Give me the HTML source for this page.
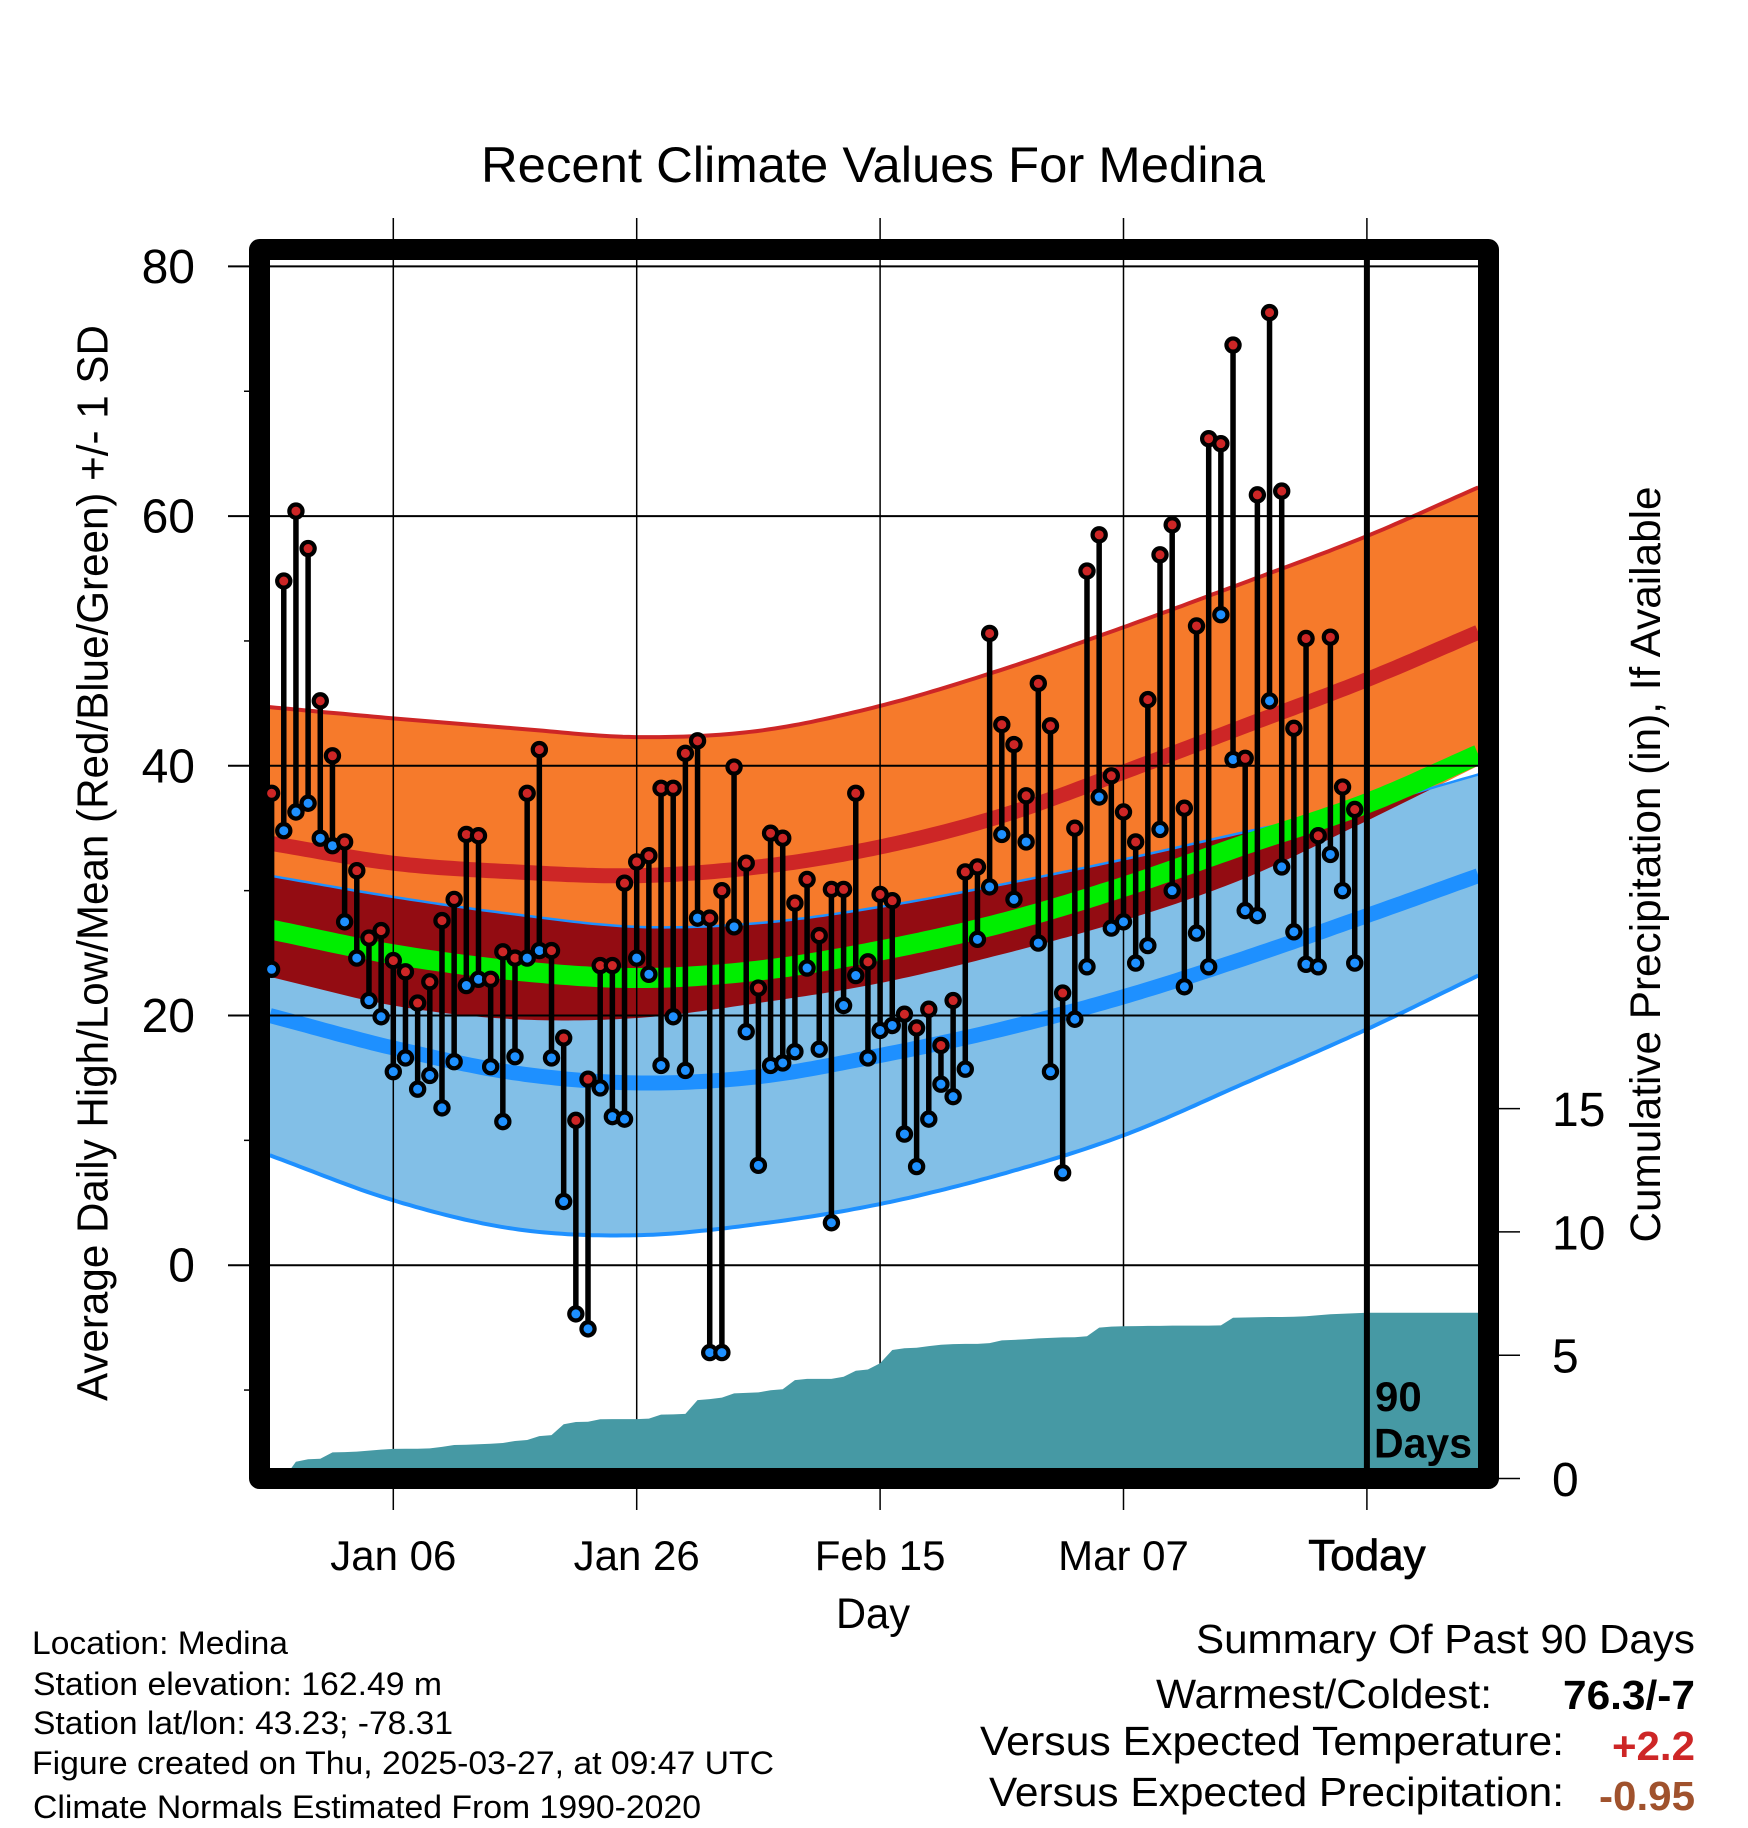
<!DOCTYPE html>
<html>
<head>
<meta charset="utf-8">
<title>Recent Climate Values For Medina</title>
<style>
html,body{margin:0;padding:0;background:#fff;}
svg{display:block;}
text{font-family:"Liberation Sans",Arial,sans-serif;fill:#000;}
</style>
</head>
<body>
<svg id="chart" xmlns="http://www.w3.org/2000/svg" width="1748" height="1828" viewBox="0 0 1748 1828">
<rect x="0" y="0" width="1748" height="1828" fill="#fff"/>
<g id="bands"></g>
<g id="grid"></g>
<g id="precip"></g>
<g id="ticks"></g>
<rect x="259.5" y="249.5" width="1229" height="1229" fill="none" stroke="#000" stroke-width="21" stroke-linejoin="round"/>
<g id="marks"></g>
<text x="481" y="182" font-size="50" textLength="784" lengthAdjust="spacingAndGlyphs">Recent Climate Values For Medina</text>
<text transform="translate(107.5,1401) rotate(-90)" font-size="44" textLength="1076" lengthAdjust="spacingAndGlyphs">Average Daily High/Low/Mean (Red/Blue/Green) +/- 1 SD</text>
<text transform="translate(1660,1242.5) rotate(-90)" font-size="43" textLength="756" lengthAdjust="spacingAndGlyphs">Cumulative Precipitation (in), If Available</text>
<text x="836" y="1628" font-size="43" textLength="74" lengthAdjust="spacingAndGlyphs">Day</text>
<text x="1375" y="1411" font-size="42" font-weight="bold">90</text>
<text x="1374" y="1457.5" font-size="42" font-weight="bold" textLength="98" lengthAdjust="spacingAndGlyphs">Days</text>
<g>
<text x="32" y="1654" font-size="32" textLength="256" lengthAdjust="spacingAndGlyphs">Location: Medina</text>
<text x="33" y="1695" font-size="32" textLength="409" lengthAdjust="spacingAndGlyphs">Station elevation: 162.49 m</text>
<text x="33" y="1734" font-size="32" textLength="420" lengthAdjust="spacingAndGlyphs">Station lat/lon: 43.23; -78.31</text>
<text x="32" y="1774" font-size="32" textLength="742" lengthAdjust="spacingAndGlyphs">Figure created on Thu, 2025-03-27, at 09:47 UTC</text>
<text x="33" y="1818" font-size="32" textLength="668" lengthAdjust="spacingAndGlyphs">Climate Normals Estimated From 1990-2020</text>
</g>
<g>
<text x="1196" y="1653" font-size="41" textLength="499" lengthAdjust="spacingAndGlyphs">Summary Of Past 90 Days</text>
<text x="1156" y="1708" font-size="41" textLength="336" lengthAdjust="spacingAndGlyphs">Warmest/Coldest:</text>
<text x="1563" y="1709" font-size="41" font-weight="bold" textLength="132" lengthAdjust="spacingAndGlyphs">76.3/-7</text>
<text x="980" y="1755" font-size="41" textLength="584" lengthAdjust="spacingAndGlyphs">Versus Expected Temperature:</text>
<text x="1612" y="1760" font-size="41" font-weight="bold" textLength="83" lengthAdjust="spacingAndGlyphs" style="fill:#cd2626">+2.2</text>
<text x="989" y="1806" font-size="41" textLength="575" lengthAdjust="spacingAndGlyphs">Versus Expected Precipitation:</text>
<text x="1599" y="1810" font-size="41" font-weight="bold" textLength="96" lengthAdjust="spacingAndGlyphs" style="fill:#a0522d">-0.95</text>
</g>
</svg>
<script>
// Observed daily values, one entry per day, oldest first (deg F)
const dailyHigh = [37.8,54.8,60.4,57.4,45.2,40.8,33.9,31.6,26.2,26.8,24.4,23.5,21.0,22.7,27.6,29.3,34.5,34.4,22.9,25.1,24.6,37.8,41.3,25.2,18.2,11.6,14.9,24.0,24.0,30.6,32.3,32.8,38.2,38.2,41.0,42.0,27.8,30.0,39.9,32.2,22.2,34.6,34.2,29.0,30.9,26.4,30.1,30.1,37.8,24.3,29.7,29.2,20.1,19.0,20.5,17.6,21.2,31.5,31.9,50.6,43.3,41.7,37.6,46.6,43.2,21.8,35.0,55.6,58.5,39.2,36.3,33.9,45.3,56.9,59.3,36.6,51.2,66.2,65.8,73.7,40.6,61.7,76.3,62.0,43.0,50.2,34.4,50.3,38.3,36.5];
const dailyLow = [23.7,34.8,36.3,37.0,34.2,33.6,27.5,24.6,21.2,19.9,15.5,16.6,14.1,15.2,12.6,16.3,22.4,22.9,15.9,11.5,16.7,24.6,25.2,16.6,5.1,-3.9,-5.1,14.2,11.9,11.7,24.6,23.3,16.0,19.9,15.6,27.8,-7.0,-7.0,27.1,18.7,8.0,16.0,16.2,17.1,23.8,17.3,3.4,20.8,23.2,16.6,18.8,19.2,10.5,7.9,11.7,14.5,13.5,15.7,26.1,30.3,34.5,29.3,33.9,25.8,15.5,7.4,19.7,23.9,37.5,27.0,27.5,24.2,25.6,34.9,30.0,22.3,26.6,23.9,52.1,40.5,28.4,28.0,45.2,31.9,26.7,24.1,23.9,32.9,30.0,24.2];
// Cumulative precipitation (inches), one entry per day
const cumulativePrecip = [0,0,0.68,0.78,0.80,1.06,1.07,1.09,1.13,1.17,1.20,1.21,1.21,1.22,1.28,1.36,1.37,1.39,1.41,1.44,1.52,1.56,1.72,1.76,2.20,2.29,2.30,2.40,2.41,2.41,2.41,2.43,2.59,2.60,2.62,3.18,3.22,3.28,3.45,3.47,3.49,3.58,3.62,3.99,4.04,4.04,4.04,4.13,4.37,4.42,4.67,5.21,5.28,5.30,5.37,5.42,5.45,5.46,5.46,5.49,5.60,5.62,5.65,5.68,5.70,5.72,5.73,5.77,6.12,6.16,6.17,6.18,6.19,6.19,6.20,6.20,6.20,6.20,6.21,6.52,6.53,6.54,6.55,6.55,6.56,6.58,6.62,6.66,6.68,6.70,6.72,6.72,6.72,6.72,6.72,6.72,6.72,6.72,6.72,6.72];
// Climate-normal curves (deg F) read at the sample days
const normalDays = [-0.15,10,20,30,40,50,60,70,80,90,99.15];
const highPlusSD = [44.7,43.8,43.0,42.3,42.8,44.8,47.7,51.1,54.7,58.4,62.3];
const highMean = [33.8,32.2,31.5,31.2,31.9,33.5,36.0,39.5,43.2,46.9,50.7];
const highMinusSD = [23.1,20.8,19.7,19.8,21.0,22.6,24.9,27.6,31.0,35.6,40.0];
const overallMean = [26.9,24.9,23.6,23.0,23.6,25.2,27.4,30.3,33.7,37.0,40.9];
const lowPlusSD = [31.2,29.5,28.1,27.1,27.4,28.7,30.5,32.5,34.7,36.8,39.3];
const lowMean = [20.0,17.4,15.4,14.6,15.1,16.8,18.9,21.5,24.6,28.0,31.2];
const lowMinusSD = [8.8,5.2,2.9,2.4,3.3,4.9,7.3,10.4,14.6,18.9,23.2];
// Axis labels
const tempMajorTicks = [80,60,40,20,0];
const tempMinorTicks = [70,50,30,10,-10];
const precipTicks = [0,5,10,15];
const dateTickDays = [10,30,50,70,90];
const dateTickLabels = ['Jan 06','Jan 26','Feb 15','Mar 07','Today'];

const NS = 'http://www.w3.org/2000/svg';
const xScale = d => 271.6 + 12.17 * d;
const yTemp = v => 1265.2 - 12.485 * v;
const yPrecip = v => 1478.5 - 24.66 * v;

function make(tag, parent, attrs) {
  const el = document.createElementNS(NS, tag);
  for (const k in attrs) el.setAttribute(k, attrs[k]);
  parent.appendChild(el);
  return el;
}

// Smooth reading of a curve between its sample days
function curveAt(vals, d) {
  const n = normalDays.length;
  let i = 0;
  while (i < n - 2 && d > normalDays[i + 1]) i++;
  const x0 = normalDays[i], x1 = normalDays[i + 1], h = x1 - x0;
  const slope = j => {
    const a = Math.max(0, j - 1), b = Math.min(n - 1, j + 1);
    return (vals[b] - vals[a]) / (normalDays[b] - normalDays[a]);
  };
  const t = (d - x0) / h, t2 = t * t, t3 = t2 * t;
  return (2*t3 - 3*t2 + 1) * vals[i] + (t3 - 2*t2 + t) * h * slope(i) +
         (-2*t3 + 3*t2) * vals[i + 1] + (t3 - t2) * h * slope(i + 1);
}
const first = normalDays[0], last = normalDays[normalDays.length - 1];
const sampleDays = [];
for (let d = first; d < last; d += 0.5) sampleDays.push(d);
sampleDays.push(last);
const linePts = fn => sampleDays.map(d => xScale(d).toFixed(1) + ',' + yTemp(fn(d)).toFixed(1));
const curvePts = vals => linePts(d => curveAt(vals, d));
const bandPts = (topFn, botFn) => linePts(topFn).concat(linePts(botFn).reverse()).join(' ');

const bands = document.getElementById('bands');
const orangeBand = make('polygon', bands, {fill: '#f67a2b', points: bandPts(d => curveAt(highPlusSD, d), d => curveAt(highMinusSD, d))});


const blueBand = make('polygon', bands, {fill: '#82bfe7', points: bandPts(d => curveAt(lowPlusSD, d), d => curveAt(lowMinusSD, d))});


const overlapBand = make('polygon', bands, {fill: '#930c12', points: bandPts(d => curveAt(lowPlusSD, d), d => Math.min(curveAt(lowPlusSD, d), curveAt(highMinusSD, d)))});


const lineStyle = (color, w) => ({fill: 'none', stroke: color, 'stroke-width': w});
const hsdLine = make('polyline', bands, Object.assign(lineStyle('#cd2626', 4), {points: curvePts(highPlusSD).join(' ')}));


const lsdLine = make('polyline', bands, Object.assign(lineStyle('#1e90ff', 2.5), {points: curvePts(lowPlusSD).join(' ')}));


const lmsdLine = make('polyline', bands, Object.assign(lineStyle('#1e90ff', 4), {points: curvePts(lowMinusSD).join(' ')}));


const hmLine = make('polyline', bands, Object.assign(lineStyle('#cd2626', 15), {points: curvePts(highMean).join(' ')}));


const lmLine = make('polyline', bands, Object.assign(lineStyle('#1e90ff', 15), {points: curvePts(lowMean).join(' ')}));


const mLine = make('polyline', bands, Object.assign(lineStyle('#00ee00', 20), {points: curvePts(overallMean).join(' ')}));



// Grid lines
const grid = document.getElementById('grid');
tempMajorTicks.forEach(v => {
  const gl = make('line', grid, {x1: 228, x2: 1478, y1: yTemp(v), y2: yTemp(v), stroke: '#000', 'stroke-width': 2});
  
  
});
dateTickDays.forEach(d => {
  const gl = make('line', grid, {x1: xScale(d), x2: xScale(d), y1: 218, y2: 1510, stroke: '#000', 'stroke-width': 1.5});
  
  
});

// Cumulative precipitation area
const precip = document.getElementById('precip');
const areaPts = cumulativePrecip.map((v, d) => xScale(d).toFixed(1) + ',' + yPrecip(v).toFixed(1));
areaPts.push(xScale(99.15).toFixed(1) + ',' + yPrecip(cumulativePrecip[cumulativePrecip.length - 1]).toFixed(1));
areaPts.push(xScale(99.15).toFixed(1) + ',' + yPrecip(0).toFixed(1));
areaPts.push(xScale(0).toFixed(1) + ',' + yPrecip(0).toFixed(1));
const area = make('polygon', precip, {fill: '#4699a4', points: areaPts.join(' ')});


const todayLine = make('line', precip, {x1: xScale(90), x2: xScale(90), y1: 250, y2: 1478, stroke: '#000', 'stroke-width': 6});



// Ticks and tick labels
const ticks = document.getElementById('ticks');
tempMajorTicks.forEach(v => {
  const lbl = make('text', ticks, {x: 195, y: yTemp(v) + 16.5, 'font-size': 48, 'text-anchor': 'end'});
  lbl.textContent = String(v);
  
  
});
tempMinorTicks.forEach(v => {
  const tk = make('line', ticks, {x1: 244, x2: 250, y1: yTemp(v), y2: yTemp(v), stroke: '#000', 'stroke-width': 1.5});
  
  
});
precipTicks.forEach(v => {
  const tk = make('line', ticks, {x1: 1498, x2: 1520, y1: yPrecip(v), y2: yPrecip(v), stroke: '#000', 'stroke-width': 1.5});
  
  
  const lbl = make('text', ticks, {x: 1552, y: yPrecip(v) + 17.5, 'font-size': 48});
  lbl.textContent = String(v);
  
  
});
dateTickDays.forEach((d, i) => {
  const lbl = make('text', ticks, {x: xScale(d), y: 1570, 'font-size': 42, 'text-anchor': 'middle'});
  lbl.textContent = dateTickLabels[i];
  if (dateTickLabels[i] === 'Today') {
    lbl.setAttribute('stroke', '#000');
    lbl.setAttribute('stroke-width', '0.8');
    lbl.setAttribute('font-size', '44');
  }
  
  
});

// Daily high/low bars and markers
const marks = document.getElementById('marks');
dailyHigh.forEach((hi, d) => {
  const lo = dailyLow[d];
  const x = xScale(d);
  const bar = make('line', marks, {x1: x, x2: x, y1: yTemp(hi), y2: yTemp(lo), stroke: '#000', 'stroke-width': 5.5});
  
  
  const hiDot = make('circle', marks, {cx: x, cy: yTemp(hi), r: 6.6, fill: '#cd2626', stroke: '#000', 'stroke-width': 4.2});
  
  
  const loDot = make('circle', marks, {cx: x, cy: yTemp(lo), r: 6.6, fill: '#1e90ff', stroke: '#000', 'stroke-width': 4.2});
  
  
});
</script>
</body>
</html>
